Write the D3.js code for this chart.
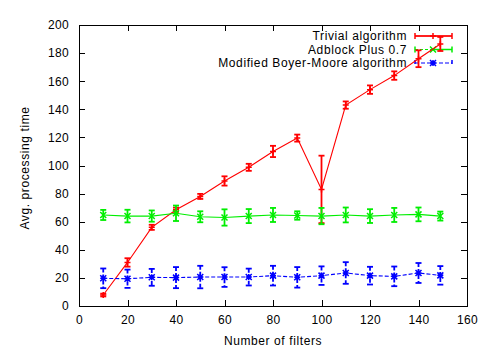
<!DOCTYPE html>
<html><head><meta charset="utf-8">
<script src="https://cdn.jsdelivr.net/npm/d3@7"></script>
<style>
body{margin:0;background:#fff;}
text{font-family:"Liberation Sans",Arial,sans-serif;font-size:12px;fill:#000;}
.lbl{letter-spacing:0.6px;}
</style></head>
<body><svg id="c" width="495" height="357"></svg>
<script>
const xs = [10,20,30,40,50,60,70,80,90,100,110,120,130,140,149];
const trivial    = [7.8,31,56,68.5,78,89,98.7,110,119.5,83,143,154,164,176,186.5];
const trivialErr = [1,3,1.8,1.5,1.8,3.3,2.5,4,2.5,24,2.6,3,3,6,5];
const adblock    = [64.8,64,64,66,63.5,63,64,64.8,64.4,64,64.8,64,64.8,65.2,64];
const adblockErr = [3.6,4.5,4,5.5,3.9,5.8,5,5,3,5.8,5.3,4.9,5,4.9,3.2];
const bm         = [19.7,19.4,20.4,20.2,20.6,20.6,20.6,21.6,20.4,21.6,23.5,21.6,21.1,23.5,21.8];
const bmErr      = [7,6.5,6,7.5,8,7,6,7,7.3,6.6,7.7,6.3,7,7.1,6.6];
const xTicks = [0,20,40,60,80,100,120,140,160];
const yTicks = [0,20,40,60,80,100,120,140,160,180,200];
const seriesNames = ["Trivial algorithm","Adblock Plus 0.7","Modified Boyer-Moore algorithm"];

const svg = d3.select("#c");
const x = d3.scaleLinear().domain([0,160]).range([79,467]);
const y = d3.scaleLinear().domain([0,200]).range([306,25]);

const gb = svg.append("g").attr("transform","translate(0,306)")
  .call(d3.axisBottom(x).tickValues(xTicks).tickSize(-6).tickPadding(9));
const gt = svg.append("g").attr("transform","translate(0,25)")
  .call(d3.axisTop(x).tickValues(xTicks).tickSize(-6).tickFormat(""));
const gl = svg.append("g").attr("transform","translate(79,0)")
  .call(d3.axisLeft(y).tickValues(yTicks).tickSize(-6).tickPadding(10));
const gr = svg.append("g").attr("transform","translate(467,0)")
  .call(d3.axisRight(y).tickValues(yTicks).tickSize(-6).tickFormat(""));
[gb,gt,gl,gr].forEach(g=>{
  g.select(".domain").remove();
  g.selectAll("line").attr("stroke","#000").attr("shape-rendering","crispEdges");
  g.selectAll("text").attr("font-family","Liberation Sans, Arial, sans-serif").attr("font-size",12).attr("fill","#000").attr("letter-spacing","0.3px");
});
svg.append("rect").attr("x",79.5).attr("y",25.5).attr("width",388).attr("height",281)
  .attr("fill","none").attr("stroke","#000").attr("shape-rendering","crispEdges");

svg.append("text").attr("class","lbl").attr("x",273).attr("y",345).attr("text-anchor","middle").text("Number of filters");
svg.append("text").attr("class","lbl").attr("transform","translate(29,168) rotate(-90)").attr("text-anchor","middle").text("Avg. processing time");

function marker(g, type, cx, cy, color){
  const s=3;
  const p = d3.path();
  if(type==="plus"||type==="star"){ p.moveTo(cx-s,cy); p.lineTo(cx+s,cy); p.moveTo(cx,cy-s); p.lineTo(cx,cy+s); }
  if(type==="cross"||type==="star"){ p.moveTo(cx-s,cy-s); p.lineTo(cx+s,cy+s); p.moveTo(cx-s,cy+s); p.lineTo(cx+s,cy-s); }
  g.append("path").attr("d",p.toString()).attr("stroke",color).attr("stroke-width",1.5).attr("fill","none");
}

const series = [
  {name:seriesNames[0], vals:trivial, err:trivialErr, color:"#ff0000", dash:null, m:"plus"},
  {name:seriesNames[1], vals:adblock, err:adblockErr, color:"#00ee00", dash:null, m:"cross"},
  {name:seriesNames[2], vals:bm, err:bmErr, color:"#0000ff", dash:"4,2", m:"star"}
];

series.forEach((s,i)=>{
  const ly = 36 + i*13.5;
  const g = svg.append("g");
  g.append("text").attr("class","lbl").attr("x",407).attr("y",ly+4).attr("text-anchor","end").text(s.name);
  const ld = (i===1) ? "3,2" : s.dash;
  g.append("line").attr("x1",415).attr("x2",452).attr("y1",ly).attr("y2",ly)
    .attr("stroke",s.color).attr("stroke-width",1.2).attr("stroke-dasharray",ld);
  if(i===1) g.append("line").attr("x1",433).attr("x2",452).attr("y1",ly).attr("y2",ly).attr("stroke",s.color).attr("stroke-width",1.5);
  if(i===0) g.append("line").attr("x1",415).attr("x2",452).attr("y1",ly).attr("y2",ly).attr("stroke",s.color).attr("stroke-width",1.5);
  [415,452].forEach(cx=>g.append("line").attr("x1",cx).attr("x2",cx).attr("y1",ly-3).attr("y2",ly+3)
    .attr("stroke",s.color).attr("stroke-width",1.5).attr("stroke-dasharray",s.dash));
  marker(g,s.m,433,ly,s.color);
});

series.forEach(s=>{
  const g = svg.append("g");
  const pts = xs.map((d,i)=>[d,s.vals[i],s.err[i]]);
  g.append("path").datum(pts)
    .attr("d",d3.line().x(d=>x(d[0])).y(d=>y(d[1])))
    .attr("fill","none").attr("stroke",s.color).attr("stroke-width",1.1).attr("stroke-dasharray",s.dash);
  pts.forEach(d=>{
    const cx = x(d[0]), y1=y(d[1]+d[2]), y2=y(d[1]-d[2]);
    g.append("line").attr("x1",cx).attr("x2",cx).attr("y1",y1).attr("y2",y2)
      .attr("stroke",s.color).attr("stroke-width",1.8).attr("stroke-dasharray",s.dash);
    [y1,y2].forEach(yy=>g.append("line").attr("x1",cx-3).attr("x2",cx+3).attr("y1",yy).attr("y2",yy)
      .attr("stroke",s.color).attr("stroke-width",1.8));
    marker(g,s.m,cx,y(d[1]),s.color);
  });
});
</script></body></html>
